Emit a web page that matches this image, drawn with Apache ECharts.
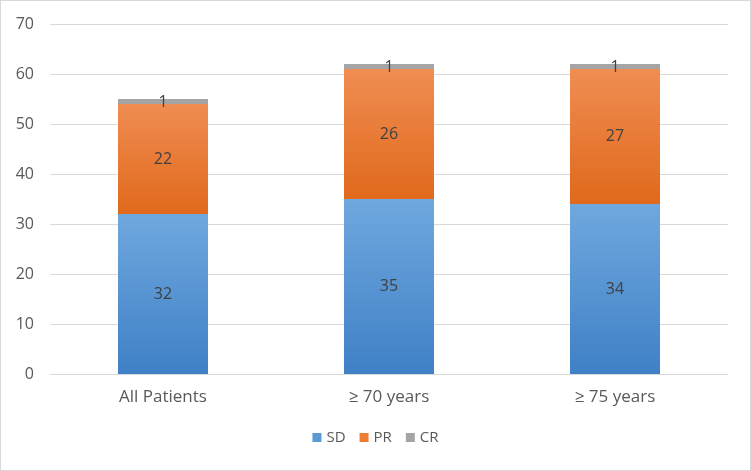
<!DOCTYPE html>
<html><head><meta charset="utf-8">
<script src="https://cdn.jsdelivr.net/npm/echarts@6/dist/echarts.min.js"></script>
<style>html,body{margin:0;padding:0;background:#fff}#c{width:751px;height:471px;box-sizing:border-box;border:1px solid #d9d9d9}</style>
</head><body><div id="c"></div>
<script>
const categories = ['All Patients', '\u2265 70 years', '\u2265 75 years'];
const sdValues = [32, 35, 34];
const prValues = [22, 26, 27];
const crValues = [1, 1, 1];
const yTicks = [0, 10, 20, 30, 40, 50, 60, 70];

const chart = echarts.init(document.getElementById('c'));
const font = '"Open Sans", "Noto Sans", sans-serif';
function grad(top, bottom) {
  return new echarts.graphic.LinearGradient(0, 0, 0, 1, [{offset: 0, color: top}, {offset: 1, color: bottom}]);
}
const lbl = {show: true, position: 'inside', color: '#404040', fontSize: 16, fontFamily: font};
chart.setOption({
  animation: false,
  grid: {left: 49, right: 22, top: 23, bottom: 96},
  legend: {
    bottom: 20, left: 'center', itemWidth: 9, itemHeight: 9, itemGap: 14,
    icon: 'rect',
    textStyle: {color: '#595959', fontSize: 15, fontFamily: font},
    data: [{name: 'SD', itemStyle: {color: '#5b9bd5'}}, {name: 'PR', itemStyle: {color: '#ed7d31'}}, {name: 'CR', itemStyle: {color: '#a5a5a5'}}]
  },
  xAxis: {
    type: 'category', data: categories,
    axisLine: {lineStyle: {color: '#d9d9d9'}}, axisTick: {show: false},
    axisLabel: {color: '#595959', fontSize: 17, fontFamily: font, margin: 15}
  },
  yAxis: {
    type: 'value', min: yTicks[0], max: yTicks[yTicks.length - 1], interval: 10,
    axisLine: {show: false}, axisTick: {show: false},
    splitLine: {lineStyle: {color: '#d9d9d9'}},
    axisLabel: {color: '#595959', fontSize: 16, fontFamily: font, margin: 16}
  },
  series: [
    {name: 'SD', type: 'bar', stack: 's', data: sdValues, barWidth: 90,
     itemStyle: {color: grad('#6fa8de', '#3f80c6')}, label: lbl},
    {name: 'PR', type: 'bar', stack: 's', data: prValues,
     itemStyle: {color: grad('#f08d52', '#e0691c')}, label: lbl},
    {name: 'CR', type: 'bar', stack: 's', data: crValues,
     itemStyle: {color: '#a5a5a5'}, label: Object.assign({}, lbl, {offset: [0, 1]})}
  ]
});
</script></body></html>
